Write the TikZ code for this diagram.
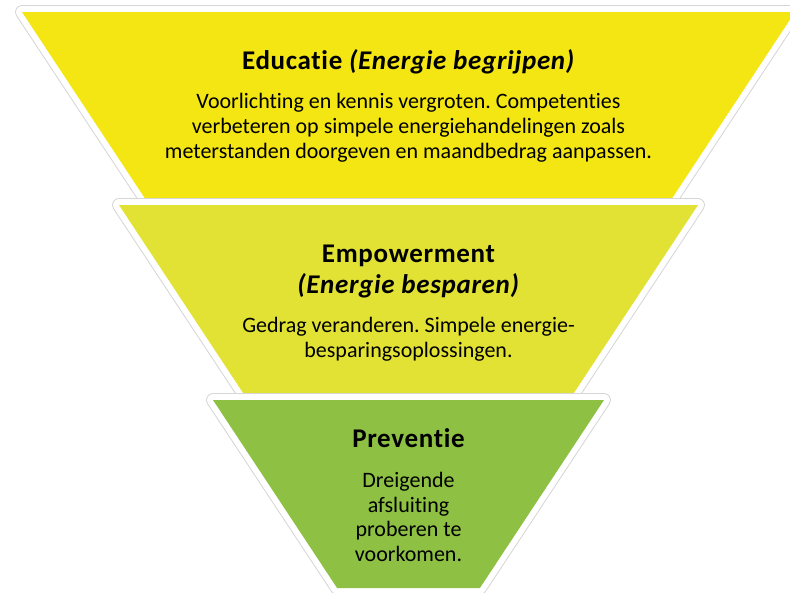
\documentclass[tikz,border=0pt]{standalone}
\usepackage{fontspec}
\setmainfont{Carlito}[Ligatures=NoCommon]
\newfontfamily\titlefont{Carlito}[LetterSpace=2.5,Ligatures=NoCommon]
\frenchspacing
\definecolor{segA}{HTML}{F3E612}
\definecolor{segB}{HTML}{E2E234}
\definecolor{segC}{HTML}{8DC043}
\tikzset{
  segshadow/.style={draw=black!16, line width=14pt, line join=round},
  segborder/.style={draw=white, line width=12pt, line join=round},
  titletext/.style={font=\titlefont\fontsize{27}{31}\selectfont\bfseries, align=center, inner sep=0pt},
  bodytext/.style={font=\fontsize{22}{24.8}\selectfont, align=center, inner sep=0pt},
}
\begin{document}
\begin{tikzpicture}[x=1pt,y=-1pt]
\useasboundingbox (0,0) rectangle (790,592);
\clip (0,0) rectangle (790,592);
% top segment
\path[segshadow] (22,12) -- (795,12) -- (667,206) -- (150,206) -- cycle;
\path[segborder] (22,12) -- (795,12) -- (667,206) -- (150,206) -- cycle;
\fill[segA] (22,12) -- (795,12) -- (667,206) -- (150,206) -- cycle;
% middle segment
\path[segshadow] (119,205) -- (698,205) -- (571.9,396) -- (245.1,396) -- cycle;
\path[segborder] (119,205) -- (698,205) -- (571.9,396) -- (245.1,396) -- cycle;
\fill[segB] (119,205) -- (698,205) -- (571.9,396) -- (245.1,396) -- cycle;
% bottom segment
\path[segshadow] (213,400) -- (604,400) -- (479.9,588) -- (337.1,588) -- cycle;
\path[segborder] (213,400) -- (604,400) -- (479.9,588) -- (337.1,588) -- cycle;
\fill[segC] (213,400) -- (604,400) -- (479.9,588) -- (337.1,588) -- cycle;
% texts
\node[titletext] (t1) at (408.5,62) {Educatie \textit{(Energie begrijpen)}};
\node[bodytext] (b1) at (408.5,128) {Voorlichting en kennis vergroten. Competenties\\verbeteren op simpele energiehandelingen zoals\\meterstanden doorgeven en maandbedrag aanpassen.};
\node[titletext] (t2) at (408.5,271.5) {Empowerment\\\textit{(Energie besparen)}};
\node[bodytext] (b2) at (408.5,339.5) {Gedrag veranderen. Simpele energie-\\besparingsoplossingen.};
\node[titletext] (t3) at (408.5,438) {Preventie};
\node[bodytext] (b3) at (408.5,517) {Dreigende\\afsluiting\\proberen te\\voorkomen.};
\end{tikzpicture}
\end{document}
